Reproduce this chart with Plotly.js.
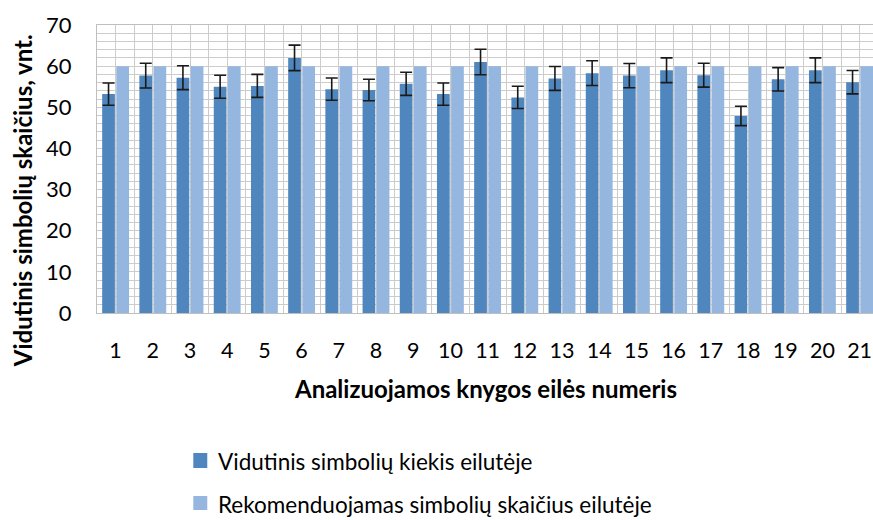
<!DOCTYPE html>
<html><head><meta charset="utf-8">
<script src="https://cdn.plot.ly/plotly-3.0.1.min.js"></script>
<style>html,body{margin:0;padding:0;background:#fff}#chart{width:873px;height:520px}</style>
</head><body><div id="chart"></div>
<script>
const books = [1,2,3,4,5,6,7,8,9,10,11,12,13,14,15,16,17,18,19,20,21];
const tickLabels = books.map(String);
const avgChars = [53.2,57.7,57.2,55.0,55.2,62.0,54.4,54.2,55.7,53.2,61.0,52.4,57.0,58.3,57.7,59.0,57.8,47.9,56.8,59.0,56.1];
const avgErr = [2.7,3.0,2.9,2.8,2.8,3.1,2.7,2.6,2.8,2.7,3.1,2.7,2.9,3.0,2.95,3.0,2.9,2.35,2.85,3.0,2.85];
const recommended = [60,60,60,60,60,60,60,60,60,60,60,60,60,60,60,60,60,60,60,60,60];
const seriesNames = ["Vidutinis simbolių kiekis eilutėje", "Rekomenduojamas simbolių skaičius eilutėje"];
const seriesColors = ['#4F86BE', '#95B6DE'];
const xTitle = "Analizuojamos knygos eilės numeris";
const yTitle = "Vidutinis simbolių skaičius, vnt.";

const font = "Lato, 'Open Sans', sans-serif";
const grid = "#CCCCCC";

const traces = [
  {type:'bar', x:books, y:avgChars, name:seriesNames[0],
   marker:{color:seriesColors[0]},
   error_y:{type:'data', array:avgErr, visible:true, color:'#1a1a1a', thickness:1.6, width:6}},
  {type:'bar', x:books, y:recommended, name:seriesNames[1],
   marker:{color:seriesColors[1]}}
];

// manual legend placed near the bottom edge like the reference
const legendRows = [
  {sy0:-0.5382, sy1:-0.4861, ty:-0.5139},
  {sy0:-0.6840, sy1:-0.6354, ty:-0.6632}
];
const shapes = legendRows.map((r,i) => ({type:'rect', xref:'paper', yref:'paper', x0:0.1241, x1:0.1421, y0:r.sy0, y1:r.sy1,
  fillcolor:seriesColors[i], line:{width:0}}));
const legendAnn = legendRows.map((r,i) => ({text:seriesNames[i], xref:'paper', yref:'paper', x:0.1534, y:r.ty,
  xanchor:'left', yanchor:'middle', showarrow:false, font:{size:22.5, family:font, color:'#000'}}));

const layout = {
  width:873, height:520,
  margin:{l:97, r:0, t:25, b:207},
  paper_bgcolor:'#fff', plot_bgcolor:'#fff',
  font:{family:font, size:22, color:'#000'},
  barmode:'group', bargap:0.24, bargroupgap:0.1,
  showlegend:false,
  xaxis:{range:[0.5,21.36], tickvals:books, ticktext:tickLabels, showgrid:true, gridcolor:grid, gridwidth:1,
         minor:{dtick:0.5, tick0:0.5, showgrid:true, gridcolor:grid, gridwidth:1},
         showline:true, linecolor:'#BFBFBF', linewidth:1, mirror:true, zeroline:false, automargin:false,
         ticks:'', ticklabelstandoff:18, ticklabeloverflow:'allow', tickfont:{size:21.5, family:font}},
  yaxis:{range:[0,70], dtick:10, showgrid:true, gridcolor:grid, gridwidth:1,
         minor:{dtick:2, showgrid:true, gridcolor:grid, gridwidth:1},
         showline:true, linecolor:'#BFBFBF', linewidth:1, mirror:true, zeroline:false, automargin:false,
         ticks:'', ticklabelstandoff:20, ticklabeloverflow:'allow', tickfont:{size:22, family:font}},
  shapes: shapes,
  annotations:[
    {text:'<b>'+xTitle+'</b>', xref:'paper', yref:'paper', x:0.5, y:-0.262, xanchor:'center', yanchor:'middle', showarrow:false, font:{size:24, family:font}},
    {text:'<b>'+yTitle+'</b>', xref:'paper', yref:'paper', x:-0.096, y:0.39, xanchor:'center', yanchor:'middle', textangle:-90, showarrow:false, font:{size:24, family:font}}
  ].concat(legendAnn)
};
Plotly.newPlot('chart', traces, layout, {displayModeBar:false, staticPlot:true});
</script></body></html>
